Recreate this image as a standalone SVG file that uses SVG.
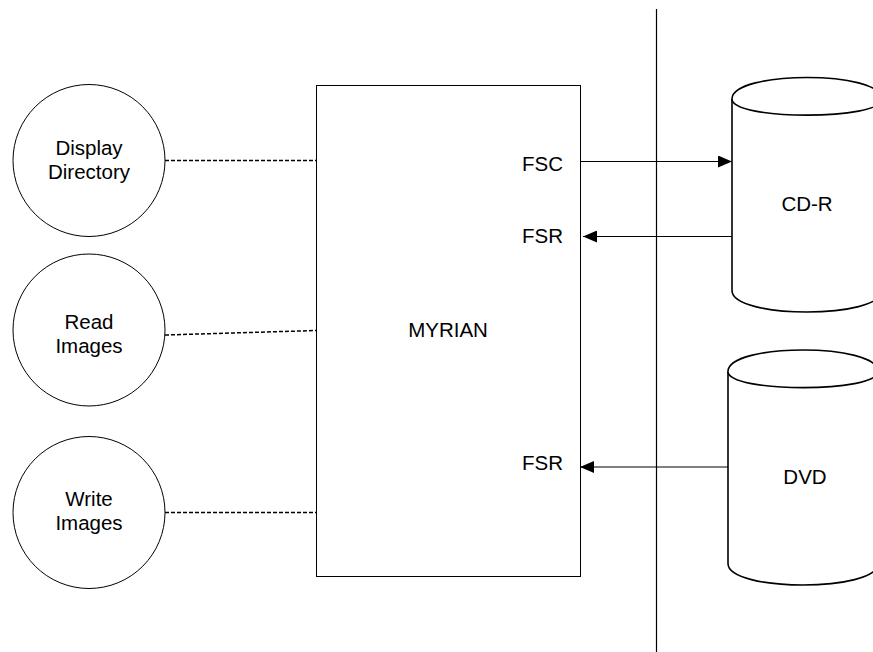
<svg xmlns="http://www.w3.org/2000/svg" width="873" height="652" viewBox="0 0 873 652">
<style>
.t{font-family:"Liberation Sans",Arial,sans-serif;font-size:20.5px;fill:#000;text-anchor:middle}
.c{fill:#fff;stroke:#000;stroke-width:1}
.cyl{fill:#fff;stroke:#000;stroke-width:1.6}
.d{fill:none;stroke:#000;stroke-width:1.5;stroke-dasharray:4 2}
.a{fill:none;stroke:#000;stroke-width:1}
</style>
<defs>
<marker id="ah" viewBox="0 0 14 12" refX="14" refY="6" markerWidth="14" markerHeight="12" markerUnits="userSpaceOnUse" orient="auto">
<path d="M0,0 L14,6 L0,12 Z" fill="#000"/>
</marker>
</defs>
<rect width="873" height="652" fill="#fff"/>
<g id="boundary">
<line x1="656.5" y1="9" x2="656.5" y2="652" stroke="#000" stroke-width="1.2"/>
</g>
<g id="display-directory">
<circle class="c" cx="89" cy="160.5" r="76"/>
<text class="t" x="89" y="155">Display</text>
<text class="t" x="89" y="179">Directory</text>
</g>
<g id="read-images">
<circle class="c" cx="89" cy="330" r="76"/>
<text class="t" x="89" y="329">Read</text>
<text class="t" x="89" y="353">Images</text>
</g>
<g id="write-images">
<circle class="c" cx="89" cy="512.5" r="76"/>
<text class="t" x="89" y="506">Write</text>
<text class="t" x="89" y="530">Images</text>
</g>
<g id="myrian">
<rect x="316.5" y="85.5" width="264" height="491" fill="#fff" stroke="#000" stroke-width="1"/>
<text class="t" x="448" y="337">MYRIAN</text>
<text class="t" x="542.5" y="171">FSC</text>
<text class="t" x="542.5" y="243">FSR</text>
<text class="t" x="542.5" y="470">FSR</text>
</g>
<g id="cd-r">
<path class="cyl" d="M732,99 C732,70.33 882,70.33 882,99 L882,290.5 C882,319.17 732,319.17 732,290.5 Z"/>
<path class="cyl" fill="none" d="M732,99 C732,120.5 882,120.5 882,99"/>
<text class="t" x="807" y="211">CD-R</text>
</g>
<g id="dvd">
<path class="cyl" d="M728,371.5 C728,342.83 878,342.83 878,371.5 L878,563.5 C878,592.17 728,592.17 728,563.5 Z"/>
<path class="cyl" fill="none" d="M728,371.5 C728,393 878,393 878,371.5"/>
<text class="t" x="805" y="484">DVD</text>
</g>
<g id="connectors">
<line class="d" x1="165" y1="160.5" x2="316" y2="160.5"/>
<line class="d" x1="165" y1="335" x2="316" y2="330.5"/>
<line class="d" x1="165" y1="512.5" x2="316" y2="512.5"/>
<line class="a" x1="581" y1="161.5" x2="732" y2="161.5" marker-end="url(#ah)"/>
<line class="a" x1="732" y1="236.5" x2="583" y2="236.5" marker-end="url(#ah)"/>
<line class="a" x1="728" y1="467" x2="580" y2="467" marker-end="url(#ah)"/>
</g>
</svg>
